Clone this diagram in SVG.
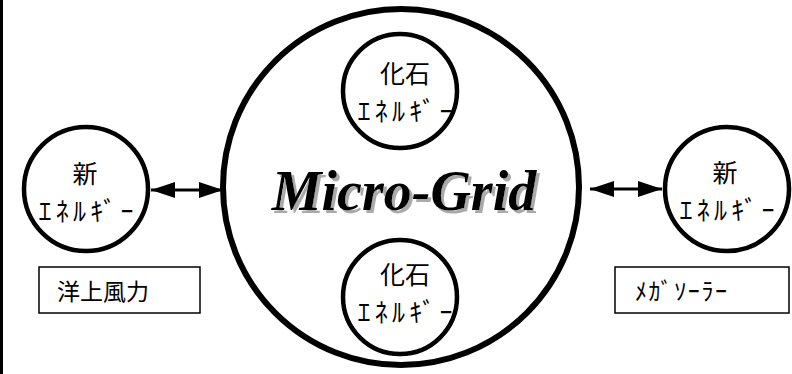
<svg xmlns="http://www.w3.org/2000/svg" width="792" height="374" viewBox="0 0 792 374">
<style>
.c{fill:#fff;stroke:#000;stroke-width:4.5}
.big{fill:#fff;stroke:#000;stroke-width:6}
.jp{font-family:"Noto Sans CJK JP","Noto Sans",sans-serif;fill:#000;text-anchor:middle}
.hz{font-size:25px}
.kn{font-size:26px}
.box{fill:#fff;stroke:#000;stroke-width:1.5}
.mg{font-family:"Liberation Serif","Times New Roman",serif;font-weight:bold;font-style:italic;font-size:56px;text-anchor:middle;fill:#000}
.ln{stroke:#000;stroke-width:3}
</style>
<defs>
<marker id="ah" viewBox="0 0 24 16" refX="24" refY="8" markerWidth="24" markerHeight="16" markerUnits="userSpaceOnUse" orient="auto-start-reverse">
<path d="M0,0 L24,8 L0,16 Z" fill="#000"/>
</marker>
<filter id="sh" x="-10%" y="-20%" width="120%" height="140%">
<feOffset in="SourceAlpha" dx="2.5" dy="2.5" result="o"/>
<feFlood flood-color="#aaa"/>
<feComposite in2="o" operator="in" result="s"/>
<feMerge><feMergeNode in="s"/><feMergeNode in="SourceGraphic"/></feMerge>
</filter>
</defs>
<rect width="792" height="374" fill="#fff"/>
<rect x="0" y="0" width="3" height="374" fill="#000"/>
<g id="connectors">
<line class="ln" x1="151" y1="190" x2="223" y2="190" marker-start="url(#ah)" marker-end="url(#ah)"/>
<line class="ln" x1="590" y1="189" x2="662" y2="189" marker-start="url(#ah)" marker-end="url(#ah)"/>
</g>
<g id="microgrid">
<circle class="big" cx="401" cy="187" r="178"/>
<text class="mg" x="404" y="210" filter="url(#sh)">Micro-Grid</text>
</g>
<g id="fossil-top">
<circle class="c" cx="400" cy="91" r="57"/>
<text class="jp hz" x="405" y="83">化石</text>
<text class="jp kn" x="405" y="121" textLength="95" lengthAdjust="spacing">ｴﾈﾙｷﾞｰ</text>
</g>
<g id="fossil-bottom">
<circle class="c" cx="400" cy="297" r="57"/>
<text class="jp hz" x="405" y="284">化石</text>
<text class="jp kn" x="405" y="322" textLength="95" lengthAdjust="spacing">ｴﾈﾙｷﾞｰ</text>
</g>
<g id="new-left">
<circle class="c" cx="86" cy="189" r="62"/>
<text class="jp hz" x="85" y="183">新</text>
<text class="jp kn" x="86" y="221" textLength="95" lengthAdjust="spacing">ｴﾈﾙｷﾞｰ</text>
</g>
<g id="new-right">
<circle class="c" cx="727" cy="189" r="62"/>
<text class="jp hz" x="725" y="182">新</text>
<text class="jp kn" x="727" y="220" textLength="95" lengthAdjust="spacing">ｴﾈﾙｷﾞｰ</text>
</g>
<g id="offshore-wind">
<rect class="box" x="39" y="267" width="161" height="46"/>
<text class="jp" x="57" y="300" font-size="23" style="text-anchor:start">洋上風力</text>
</g>
<g id="mega-solar">
<rect class="box" x="615" y="267" width="174" height="46"/>
<text class="jp" x="635" y="300" font-size="24" textLength="92" lengthAdjust="spacing" style="text-anchor:start">ﾒｶﾞｿｰﾗｰ</text>
</g>
</svg>
